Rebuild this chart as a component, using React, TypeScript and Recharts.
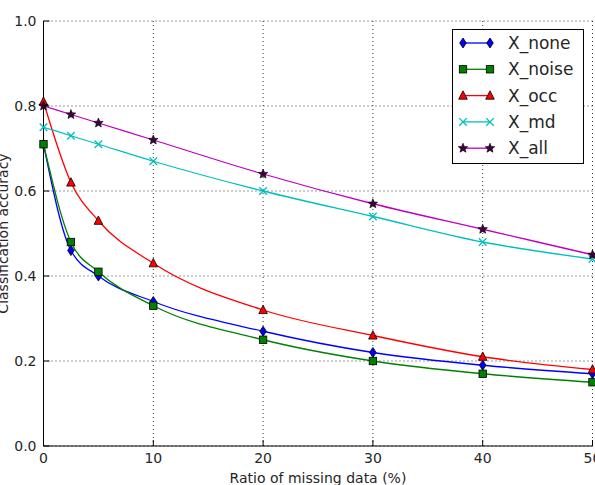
import { LineChart, Line, XAxis, YAxis, CartesianGrid } from "recharts";

// missing data ratio (%) where each model was evaluated
const ratios = [0, 2.5, 5, 10, 20, 30, 40, 50];

const xNone = [0.71, 0.46, 0.4, 0.34, 0.27, 0.22, 0.19, 0.17];
const xNoise = [0.71, 0.48, 0.41, 0.33, 0.25, 0.2, 0.17, 0.15];
const xOcc = [0.81, 0.62, 0.53, 0.43, 0.32, 0.26, 0.21, 0.18];
const xMd = [0.75, 0.73, 0.71, 0.67, 0.6, 0.54, 0.48, 0.44];
const xAll = [0.8, 0.78, 0.76, 0.72, 0.64, 0.57, 0.51, 0.45];

const xTicks = [0, 10, 20, 30, 40, 50];
const yTicks = [0, 0.2, 0.4, 0.6, 0.8, 1.0];

type MarkerKind = "diamond" | "square" | "triangle" | "x" | "star";

const series: { key: string; name: string; values: number[]; color: string; marker: MarkerKind; fill: string }[] = [
  { key: "none", name: "X_none", values: xNone, color: "#0000ff", marker: "diamond", fill: "#0000ff" },
  { key: "noise", name: "X_noise", values: xNoise, color: "#008000", marker: "square", fill: "#008000" },
  { key: "occ", name: "X_occ", values: xOcc, color: "#ff0000", marker: "triangle", fill: "#ff0000" },
  { key: "md", name: "X_md", values: xMd, color: "#00bfbf", marker: "x", fill: "#00bfbf" },
  { key: "all", name: "X_all", values: xAll, color: "#bf00bf", marker: "star", fill: "#400040" },
];

const data = ratios.map((r, i) => {
  const row: Record<string, number> = { ratio: r };
  series.forEach((s) => (row[s.key] = s.values[i]));
  return row;
});

const FONT = "DejaVu Sans, sans-serif";
const TEXT = "#262626";

function Marker({ kind, cx, cy, color, fill }: { kind: MarkerKind; cx: number; cy: number; color: string; fill: string }) {
  switch (kind) {
    case "diamond":
      return (
        <polygon
          points={`${cx},${cy - 5} ${cx + 3.3},${cy} ${cx},${cy + 5} ${cx - 3.3},${cy}`}
          fill={fill}
          stroke="#000"
          strokeWidth={0.8}
        />
      );
    case "square":
      return <rect x={cx - 3.7} y={cy - 3.7} width={7.4} height={7.4} fill={fill} stroke="#000" strokeWidth={0.8} />;
    case "triangle":
      return (
        <polygon
          points={`${cx},${cy - 4.8} ${cx + 4.3},${cy + 3.6} ${cx - 4.3},${cy + 3.6}`}
          fill={fill}
          stroke="#000"
          strokeWidth={0.8}
        />
      );
    case "x":
      return (
        <g stroke={color} strokeWidth={1.3}>
          <line x1={cx - 3.8} y1={cy - 3.8} x2={cx + 3.8} y2={cy + 3.8} />
          <line x1={cx - 3.8} y1={cy + 3.8} x2={cx + 3.8} y2={cy - 3.8} />
        </g>
      );
    case "star": {
      const pts: string[] = [];
      for (let k = 0; k < 10; k++) {
        const r = k % 2 === 0 ? 5 : 2.2;
        const a = -Math.PI / 2 + (k * Math.PI) / 5;
        pts.push(`${cx + r * Math.cos(a)},${cy + r * Math.sin(a)}`);
      }
      return <polygon points={pts.join(" ")} fill={fill} stroke="#000" strokeWidth={0.6} />;
    }
  }
}

const BottomTick = (props: any) => {
  const { x, y, payload } = props;
  return (
    <g>
      <line x1={x} y1={y} x2={x} y2={y - 6} stroke="#000" />
      <text x={x} y={y + 17} textAnchor="middle" fontSize={14} fontFamily={FONT} fill={TEXT}>
        {payload.value}
      </text>
    </g>
  );
};

const LeftTick = (props: any) => {
  const { x, y, payload } = props;
  return (
    <g>
      <line x1={x} y1={y} x2={x + 6} y2={y} stroke="#000" />
      <text x={x - 7} y={y + 5} textAnchor="end" fontSize={14} fontFamily={FONT} fill={TEXT}>
        {Number(payload.value).toFixed(1)}
      </text>
    </g>
  );
};

const TopTick = (props: any) => {
  const { x, y } = props;
  return <line x1={x} y1={y} x2={x} y2={y + 6} stroke="#000" />;
};

const RightTick = (props: any) => {
  const { x, y } = props;
  return <line x1={x} y1={y} x2={x - 6} y2={y} stroke="#000" />;
};

const XLabel = (props: any) => {
  const { viewBox } = props;
  return (
    <text x={viewBox.x + viewBox.width / 2} y={483} textAnchor="middle" fontSize={14} fontFamily={FONT} fill={TEXT}>
      Ratio of missing data (%)
    </text>
  );
};

const YLabel = (props: any) => {
  const { viewBox } = props;
  const cy = viewBox.y + viewBox.height / 2;
  return (
    <text
      x={8}
      y={cy}
      transform={`rotate(-90 8 ${cy})`}
      textAnchor="middle"
      fontSize={14}
      fontFamily={FONT}
      fill={TEXT}
    >
      Classification accuracy
    </text>
  );
};

// legend panel in the upper right corner of the plot
const LegendBox = () => (
  <svg width={132} height={135} style={{ position: "absolute", left: 452, top: 29, display: "block" }}>
    <rect x={0.5} y={0.5} width={131} height={134} fill="#fff" stroke="#000" />
    {series.map((s, i) => {
      const cy = 14 + i * 26.3;
      return (
        <g key={s.key}>
          <line x1={11} y1={cy} x2={38} y2={cy} stroke={s.color} strokeWidth={1.3} />
          <Marker kind={s.marker} cx={11} cy={cy} color={s.color} fill={s.fill} />
          <Marker kind={s.marker} cx={38} cy={cy} color={s.color} fill={s.fill} />
          <text x={56} y={cy + 6} fontSize={17} fontFamily={FONT} fill={TEXT}>
            {s.name}
          </text>
        </g>
      );
    })}
  </svg>
);

export default function App() {
  return (
    <div style={{ position: "absolute", left: 0, top: 0, width: 595, height: 485, background: "#fff" }}>
      <LineChart width={595} height={485} data={data} margin={{ top: 21, right: 2.5, bottom: 0, left: 0 }}>
        <CartesianGrid stroke="#000" strokeWidth={0.8} strokeDasharray="1 3" />
        <XAxis
          dataKey="ratio"
          type="number"
          domain={[0, 50]}
          ticks={xTicks}
          height={39}
          tickSize={0}
          tickMargin={0}
          tickLine={false}
          axisLine={{ stroke: "#000" }}
          tick={<BottomTick />}
          label={<XLabel />}
          interval={0}
        />
        <XAxis
          xAxisId="top"
          orientation="top"
          dataKey="ratio"
          type="number"
          domain={[0, 50]}
          ticks={xTicks}
          height={0}
          tickSize={0}
          tickMargin={0}
          tickLine={false}
          axisLine={{ stroke: "#000" }}
          tick={<TopTick />}
          interval={0}
        />
        <YAxis
          type="number"
          domain={[0, 1]}
          ticks={yTicks}
          width={43.5}
          tickSize={0}
          tickMargin={0}
          tickLine={false}
          axisLine={{ stroke: "#000" }}
          tick={<LeftTick />}
          label={<YLabel />}
          interval={0}
        />
        <YAxis
          yAxisId="right"
          orientation="right"
          type="number"
          domain={[0, 1]}
          ticks={yTicks}
          width={0}
          tickSize={0}
          tickMargin={0}
          tickLine={false}
          axisLine={{ stroke: "#000" }}
          tick={<RightTick />}
          interval={0}
        />
        {series.map((s) => (
          <Line
            key={s.key}
            dataKey={s.key}
            name={s.name}
            type="monotone"
            stroke={s.color}
            strokeWidth={1.3}
            isAnimationActive={false}
            dot={(p: any) => (
              <Marker key={`${s.key}-${p.index}`} kind={s.marker} cx={p.cx} cy={p.cy} color={s.color} fill={s.fill} />
            )}
            activeDot={false}
          />
        ))}
      </LineChart>
      <LegendBox />
    </div>
  );
}
